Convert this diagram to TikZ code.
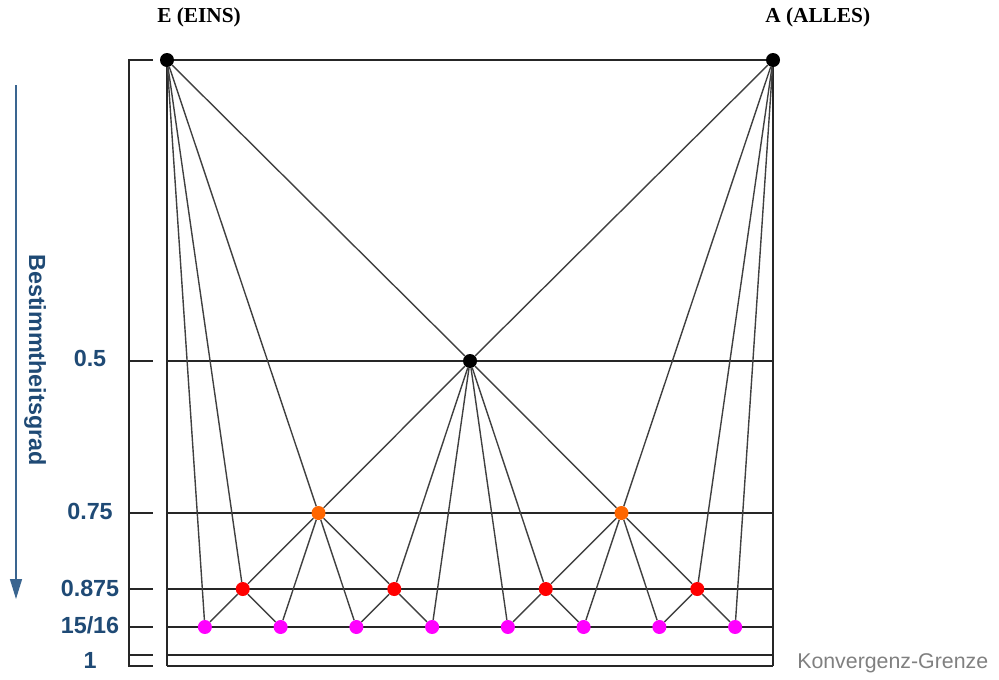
\documentclass[tikz,border=0pt]{standalone}
\usepackage{fontspec}
\setmainfont{Liberation Sans}
\newfontfamily\headserif{Liberation Serif}
\usetikzlibrary{arrows.meta}

\definecolor{lvlblue}{HTML}{1F4A75}
\definecolor{arrblue}{HTML}{3A6590}
\definecolor{dotorange}{HTML}{FF6600}
\definecolor{dotred}{HTML}{FF0000}
\definecolor{dotmag}{HTML}{FF00FF}

\begin{document}
\begin{tikzpicture}[x=0.75pt, y=-0.75pt,
    knot/.style={circle, inner sep=0pt, minimum size=10.5pt, fill=#1},
    link/.style={black!75, line width=1.05pt},
    frame/.style={black!85, line width=1.5pt},
    lvl/.style={lvlblue, inner sep=0pt, font=\fontsize{17.5}{20}\selectfont\bfseries},
    head/.style={anchor=west, inner sep=0pt, font=\headserif\fontsize{16}{18}\selectfont\bfseries}]

  \useasboundingbox (0,0) rectangle (999,679);

  % ---------------------------------------------------------------- frame
  % Left scale, then the box with one rule per level (the two bottom rules
  % are the limit).
  \draw[frame] (153,60) -- (129,60) -- (129,666) -- (153,666);
  \foreach \y in {361, 513, 589, 627, 655}
    \draw[frame] (129,\y) -- (153,\y);
  \foreach \y in {60, 361, 513, 589, 627, 655, 666}
    \draw[frame] (167,\y) -- (773,\y);
  \draw[frame] (167,60) -- (167,666);
  \draw[frame] (773,60) -- (773,666);

  % ---------------------------------------------------------------- points
  % x = 167 + 606 t, one row per dyadic level.
  \node[knot=black] (E) at (167,60) {};
  \node[knot=black] (A) at (773,60) {};
  \node[knot=black] (m) at (470,361) {};
  \node[knot=dotorange] (o1) at (318.5,513) {};
  \node[knot=dotorange] (o2) at (621.5,513) {};
  \foreach \k in {1,...,4}
    \node[knot=dotred] (r\k) at ({167+606*(2*\k-1)/8},589) {};
  \foreach \k in {1,...,8}
    \node[knot=dotmag] (v\k) at ({167+606*(2*\k-1)/16},627) {};

  % Each point hangs from its left and right neighbour one level up.
  \foreach \c/\l/\r in {m/E/A, o1/E/m, o2/m/A,
      r1/E/o1, r2/o1/m, r3/m/o2, r4/o2/A,
      v1/E/r1, v2/r1/o1, v3/o1/r2, v4/r2/m,
      v5/m/r3, v6/r3/o2, v7/o2/r4, v8/r4/A}
    \draw[link] (\l) -- (\c) -- (\r);

  % ---------------------------------------------------------------- labels
  \node[head] (eins) at (157,17) {E (EINS)};
  \node[head] (alles) at (765,17) {A (ALLES)};

  \node[lvl] (l1) at (90,358) {0.5};
  \node[lvl] (l2) at (90,511) {0.75};
  \node[lvl] (l3) at (90,588) {0.875};
  \node[lvl] (l4) at (90,625) {15/16};
  \node[lvl] (l5) at (90,660) {1};

  \node[lvl, rotate=-90] (grad) at (35,360) {Bestimmtheitsgrad};
  \coordinate (arrtop) at (16,85);
  \coordinate (arrbot) at (16,599);
  \draw[arrblue, line width=1.1pt, -{Triangle[width=9pt, length=15pt]}]
    (arrtop) -- (arrbot);

  \node[anchor=west, inner sep=0pt, text=black!50,
    font=\fontsize{16}{18}\selectfont] (grenze) at (797,663) {Konvergenz-Grenze};

\end{tikzpicture}
\end{document}
